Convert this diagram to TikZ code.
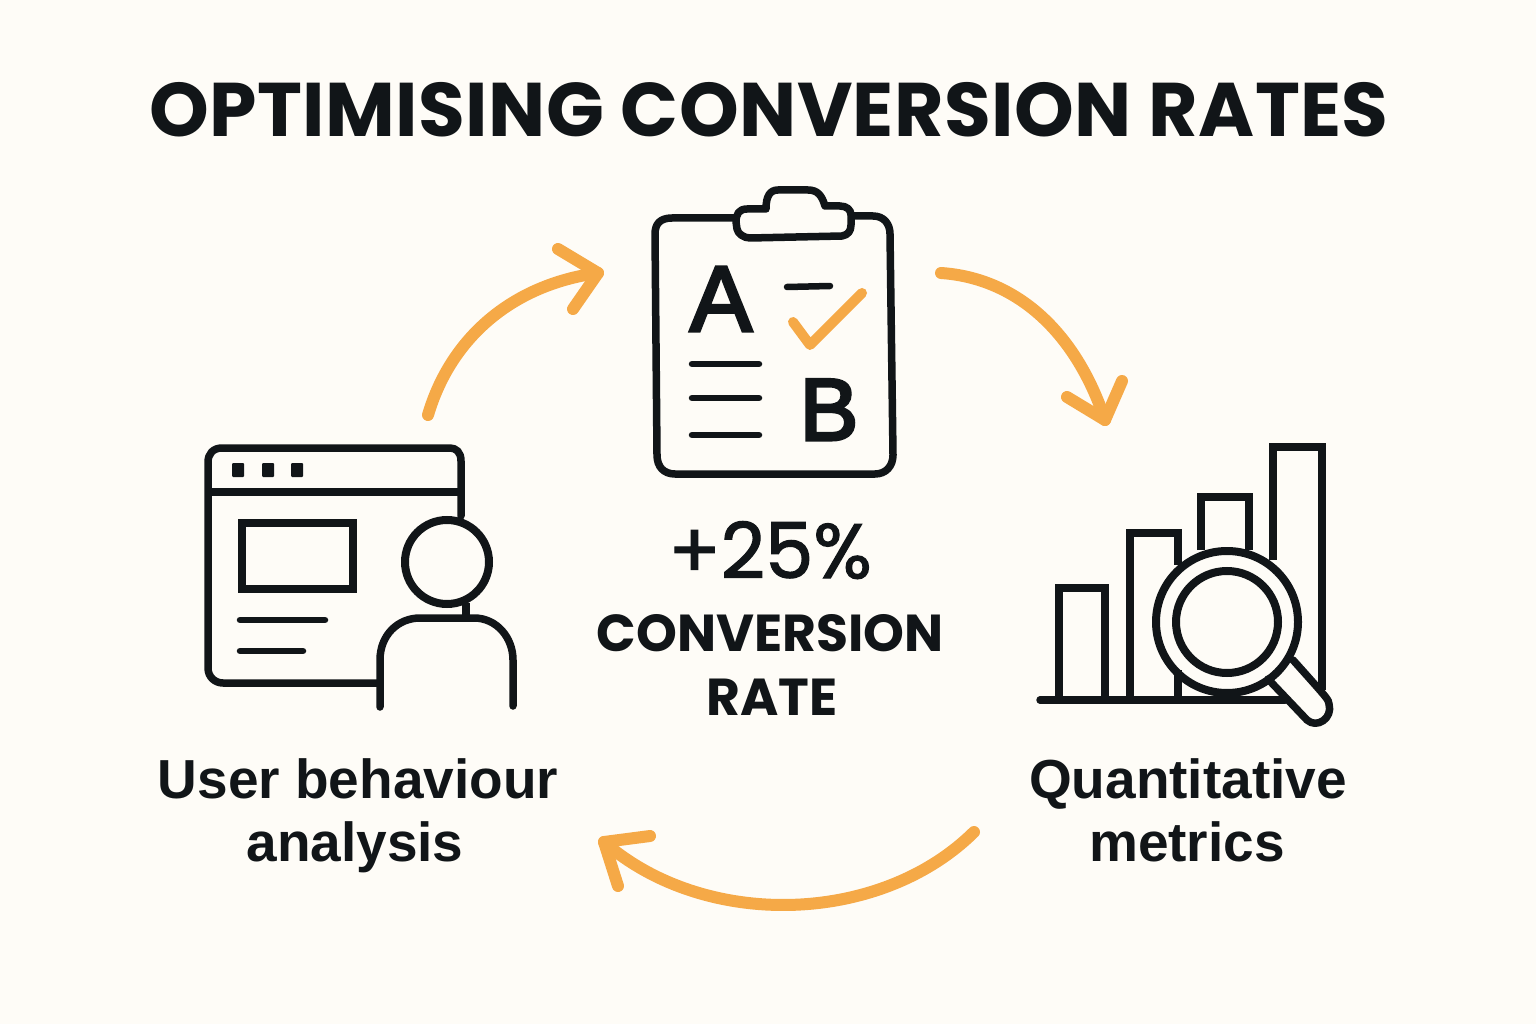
\documentclass[tikz,border=0pt]{standalone}
\usepackage{fontspec}
\setmainfont{Poppins}
\newfontfamily\lsans{Liberation Sans}
\newfontfamily\lsansfat[FakeBold=3.5]{Liberation Sans}
\newfontfamily\popmed[FakeBold=1.6]{Poppins}
\newfontfamily\poptitle[LetterSpace=0.6]{Poppins}
\usetikzlibrary{calc}
\definecolor{bgc}{HTML}{FEFCF7}
\definecolor{ink}{HTML}{111518}
\definecolor{amber}{HTML}{F5A947}
\tikzset{
  ic/.style={draw=ink,line width=7.5pt,line cap=round,line join=round},
  thinic/.style={draw=ink,line width=6.5pt,line cap=round,line join=round},
  arr/.style={draw=amber,line width=12pt,line cap=round,line join=round},
  lab/.style={text=ink,inner sep=0pt,align=center},
  blab/.style={text=ink,inner sep=0pt,anchor=base},
}
\newcommand{\fs}[1]{\fontsize{#1}{#1}\selectfont}
\begin{document}
\begin{tikzpicture}[x=1pt,y=-1pt]
\useasboundingbox (0,0) rectangle (1536,1024);
\fill[bgc] (0,0) rectangle (1536,1024);
\node[lab,font=\poptitle\fs{76}\bfseries] (title) at (769,110) {OPTIMISING CONVERSION RATES};
% clipboard
\draw[ic] (735,218) -- (672,218) .. controls (660,218) and (655,224) .. (655,234) -- (657,455) .. controls (657,467) and (664,474) .. (675,474) -- (875,474) .. controls (886,474) and (893,466) .. (893,455) -- (890,234) .. controls (890,224) and (884,216) .. (873,216) -- (852,216);
\draw[ic] (766,209) -- (747,209) .. controls (739,209) and (736,214) .. (736,222) -- (737,229) .. controls (738,234) and (744,238) .. (750,238) -- (842,236) .. controls (848,235) and (851,231) .. (851,225) -- (851,215) .. controls (851,210) and (847,206) .. (840,206) -- (825,206) .. controls (822,196) and (818,190) .. (808,190) -- (778,190) .. controls (770,190) and (766,196) .. (766,209);
\node[blab,font=\lsansfat\fs{93}] (a) at (721,331) {A};
\node[blab,font=\lsansfat\fs{88}] (b) at (829,440) {B};
\draw[thinic] (787,287) -- (830,286);
\draw[thinic] (692,364) -- (759,364);
\draw[thinic] (692,398) -- (759,398);
\draw[thinic] (692,435) -- (759,435);
\draw[draw=amber,line width=10pt,line cap=round,line join=round] (793,322) -- (810,345) -- (862,293);
% browser
\draw[ic] (461,516) -- (461,461) .. controls (461,452) and (456,448) .. (450,448) -- (222,448) .. controls (213,448) and (208,454) .. (208,462) -- (208,668) .. controls (208,677) and (215,683) .. (223,683) -- (378,683);
\draw[ic,line cap=butt] (208,492) -- (461,492);
\foreach \x in {238,268,297} \fill[ink,rounded corners=1pt] (\x-6,463) rectangle (\x+6,477);
\draw[ic,line cap=butt,line join=miter] (242,523) rectangle (353,589);
\draw[thinic] (240,620) -- (325,620);
\draw[thinic] (240,651) -- (303,651);
\node[circle,draw=ink,line width=8pt,minimum size=84pt,inner sep=0pt] (head) at (447,562) {};
\draw[ic,line cap=butt] (466,603) -- (466,617);
\draw[ic] (380,707) -- (380,660) .. controls (380,635) and (398,618) .. (420,618) -- (474,618) .. controls (497,618) and (513,638) .. (513,660) -- (513,706);
% chart
\draw[ic,line cap=butt,line join=miter] (1059,698) -- (1059,588) -- (1105,588) -- (1105,698);
\draw[ic,line cap=butt,line join=miter] (1130,698) -- (1130,533) -- (1178,533) -- (1178,565);
\draw[ic,line cap=butt] (1178,670) -- (1178,698);
\draw[ic,line cap=butt,line join=miter] (1201,550) -- (1201,497) -- (1249,497) -- (1249,550);
\draw[ic,line cap=butt,line join=miter] (1273,560) -- (1273,447) -- (1322,447) -- (1322,690);
\draw[ic] (1040,700) -- (1285,700);
\node[circle,draw=ink,line width=8pt,minimum size=142pt,inner sep=0pt] (lens) at (1227,622) {};
\node[circle,draw=ink,line width=8pt,minimum size=102pt,inner sep=0pt] (glass) at (1227,622) {};
\draw[ic] (1268,679) -- (1307,720) .. controls (1317,729) and (1333,718) .. (1329,704) .. controls (1329,700) and (1327,698) .. (1293,660);
% arrows
\coordinate (a1s) at (428,415);
\coordinate (a1e) at (598,273);
\coordinate (a2s) at (941,273);
\coordinate (a2e) at (1105,420);
\coordinate (a3s) at (974,832);
\coordinate (a3e) at (604,842);
\draw[arr] (a1s) .. controls (450,340) and (510,285) .. (a1e);
\draw[arr] (558,249) -- (a1e) -- (573,309);
\draw[arr] (a2s) .. controls (1015,278) and (1075,330) .. (a2e);
\draw[arr] (1067,397) -- (a2e) -- (1122,381);
\draw[arr] (a3s) .. controls (880,925) and (705,930) .. (a3e);
\draw[arr] (650,836) -- (a3e) -- (618,886);
% labels
\node[blab,font=\popmed\fs{77}] (pct) at (770,578) {+25\%};
\node[lab,font=\fs{52}\bfseries] (conv) at (770,633) {CONVERSION};
\node[lab,font=\fs{52}\bfseries] (rate) at (772,697) {RATE};
\node[blab,font=\lsans\fs{55}\bfseries] (u1) at (358,798) {User behaviour};
\node[blab,font=\lsans\fs{55}\bfseries] (u2) at (355,861) {analysis};
\node[blab,font=\lsans\fs{55}\bfseries] (q1) at (1188,798) {Quantitative};
\node[blab,font=\lsans\fs{55}\bfseries] (q2) at (1187,861) {metrics};
\end{tikzpicture}
\end{document}
